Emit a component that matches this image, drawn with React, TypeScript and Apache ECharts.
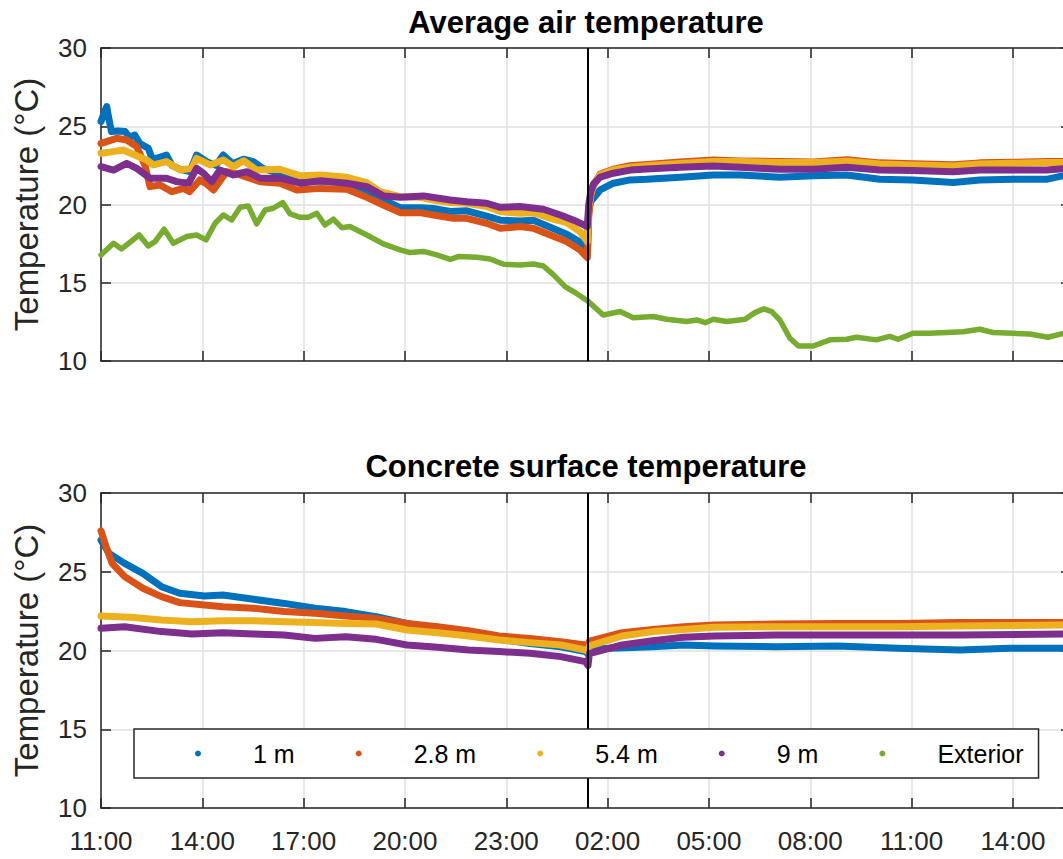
import React, { useEffect, useRef } from "react";
import * as echarts from "echarts";

// Hours elapsed since 11:00 on day 1; values in °C
const seriesNames = ["1 m", "2.8 m", "5.4 m", "9 m", "Exterior"];
const seriesColors = ["#0072BD", "#D95319", "#EDB120", "#7E2F8E", "#77AC30"];
const startHour = 11;
const eventHour = 14.42;
const xMax = 28.72;
const yTicks = [10, 15, 20, 25, 30];

const air1m = [[0,25.3],[0.1,25.9],[0.17,26.26],[0.22,25.62],[0.31,24.66],[0.5,24.7],[0.71,24.66],[0.85,24.3],[1.0,24.44],[1.15,23.9],[1.4,23.59],[1.5,23.0],[1.65,22.95],[1.94,23.16],[2.1,22.5],[2.34,22.25],[2.64,22.1],[2.83,23.16],[3.13,22.74],[3.4,22.5],[3.62,23.16],[3.9,22.6],[4.22,22.89],[4.51,22.74],[4.8,22.3],[5.1,22.1],[5.5,21.8],[5.9,21.45],[6.5,21.5],[7.28,21.4],[7.87,20.9],[8.36,20.3],[8.86,19.8],[9.45,19.8],[9.84,19.75],[10.34,19.55],[10.83,19.6],[11.42,19.25],[11.82,19.0],[12.41,18.95],[12.8,19.0],[13.3,18.55],[13.79,18.1],[14.18,17.6],[14.4,17.0],[14.44,19.6],[14.5,20.2],[14.58,20.4],[14.78,20.93],[15.17,21.36],[15.67,21.57],[16.16,21.61],[17.15,21.74],[18.13,21.89],[18.92,21.89],[20.1,21.74],[21.09,21.83],[22.08,21.89],[23.06,21.61],[24.04,21.57],[25.23,21.4],[26.02,21.57],[27.0,21.61],[27.99,21.61],[28.6,21.89]];
const air28m = [[0,23.91],[0.46,24.23],[0.76,24.12],[1.06,23.7],[1.3,22.5],[1.45,21.14],[1.75,21.25],[2.1,20.82],[2.44,21.03],[2.62,20.82],[2.93,21.57],[3.13,21.3],[3.33,20.93],[3.72,22.1],[4.12,21.89],[4.71,21.46],[5.3,21.36],[5.8,20.93],[6.5,21.03],[7.28,20.97],[7.87,20.46],[8.36,19.97],[8.86,19.48],[9.45,19.48],[9.84,19.33],[10.43,19.12],[10.83,19.12],[11.42,18.8],[11.82,18.48],[12.41,18.59],[12.8,18.48],[13.3,18.05],[13.79,17.63],[14.18,17.1],[14.4,16.6],[14.44,19.2],[14.5,20.5],[14.58,21.2],[14.78,21.95],[15.17,22.25],[15.67,22.48],[16.16,22.56],[17.15,22.72],[18.13,22.84],[18.92,22.78],[20.1,22.74],[21.09,22.72],[22.08,22.86],[23.06,22.66],[24.04,22.6],[25.23,22.54],[26.02,22.66],[27.0,22.7],[27.99,22.74],[28.6,22.74]];
const air54m = [[0,23.27],[0.37,23.38],[0.66,23.48],[1.0,23.16],[1.35,22.85],[1.55,22.53],[1.94,22.74],[2.34,22.2],[2.69,22.31],[2.83,22.95],[3.23,22.53],[3.62,22.85],[3.92,22.42],[4.22,22.8],[4.61,22.2],[5.3,22.25],[5.9,21.83],[6.5,21.89],[7.28,21.74],[7.87,21.4],[8.26,20.82],[8.86,20.5],[9.45,20.46],[9.84,20.29],[10.34,20.12],[10.83,20.08],[11.42,19.87],[11.82,19.55],[12.41,19.44],[12.8,19.48],[13.3,19.12],[13.79,18.84],[14.18,18.27],[14.4,17.63],[14.44,19.8],[14.5,20.6],[14.58,21.3],[14.78,21.9],[15.17,22.2],[15.67,22.38],[16.16,22.48],[17.15,22.62],[18.13,22.74],[18.92,22.74],[20.1,22.68],[21.09,22.68],[22.08,22.76],[23.06,22.59],[24.04,22.53],[25.23,22.46],[26.02,22.59],[27.0,22.63],[27.99,22.68],[28.6,22.68]];
const air9m = [[0,22.42],[0.37,22.2],[0.76,22.63],[1.06,22.31],[1.25,22.0],[1.45,21.68],[1.94,21.68],[2.24,21.46],[2.59,21.36],[2.83,22.31],[3.03,22.0],[3.28,21.46],[3.52,22.2],[3.92,21.89],[4.32,22.1],[4.71,21.68],[5.3,21.68],[5.9,21.36],[6.5,21.52],[7.28,21.36],[7.87,21.14],[8.36,20.55],[8.86,20.46],[9.55,20.55],[10.34,20.29],[10.83,20.18],[11.42,20.08],[11.82,19.82],[12.41,19.87],[13.1,19.7],[13.6,19.33],[14.09,18.91],[14.4,18.59],[14.44,20.0],[14.5,20.8],[14.58,21.3],[14.78,21.75],[15.17,22.0],[15.67,22.2],[16.16,22.27],[17.15,22.38],[18.13,22.46],[18.92,22.38],[20.1,22.25],[21.09,22.25],[22.08,22.38],[23.06,22.21],[24.04,22.17],[25.23,22.1],[26.02,22.21],[27.0,22.21],[27.99,22.21],[28.6,22.31]];
const airExterior = [[0,16.78],[0.37,17.52],[0.61,17.16],[1.13,18.05],[1.4,17.35],[1.6,17.63],[1.87,18.42],[2.14,17.52],[2.54,17.95],[2.83,18.05],[3.11,17.74],[3.38,18.8],[3.62,19.33],[3.87,19.01],[4.12,19.82],[4.36,19.91],[4.61,18.76],[4.86,19.65],[5.1,19.76],[5.38,20.12],[5.6,19.4],[5.9,19.18],[6.14,19.18],[6.39,19.44],[6.63,18.69],[6.88,19.06],[7.13,18.52],[7.37,18.59],[7.87,18.05],[8.36,17.48],[8.86,17.1],[9.15,16.93],[9.55,17.0],[9.94,16.78],[10.34,16.5],[10.58,16.67],[11.13,16.63],[11.52,16.52],[11.92,16.18],[12.41,16.14],[12.8,16.2],[13.1,16.07],[13.4,15.5],[13.74,14.75],[14.09,14.3],[14.4,13.86],[14.87,12.94],[15.37,13.16],[15.76,12.77],[16.35,12.84],[16.75,12.67],[17.34,12.52],[17.64,12.62],[17.89,12.45],[18.13,12.67],[18.53,12.52],[19.07,12.67],[19.36,13.09],[19.63,13.33],[19.86,13.16],[20.1,12.62],[20.4,11.45],[20.65,10.96],[21.09,10.96],[21.58,11.35],[22.08,11.39],[22.37,11.52],[22.96,11.35],[23.35,11.57],[23.6,11.39],[24.04,11.77],[24.54,11.77],[25.52,11.87],[26.02,12.03],[26.41,11.82],[27.0,11.77],[27.5,11.73],[28.04,11.52],[28.6,11.82]];

const surf1m = [[0,27.0],[0.24,26.17],[0.7,25.53],[1.24,24.9],[1.79,24.05],[2.33,23.63],[3.06,23.46],[3.61,23.52],[4.52,23.25],[5.43,22.99],[6.34,22.68],[7.25,22.47],[8.15,22.15],[9.06,21.72],[9.97,21.34],[10.88,21.05],[11.79,20.71],[12.7,20.45],[13.61,20.24],[14.34,19.93],[14.42,19.8],[14.46,20.1],[15.07,20.14],[16.34,20.24],[17.25,20.35],[18.16,20.29],[19.98,20.24],[21.8,20.29],[23.61,20.14],[25.43,20.03],[26.89,20.14],[28.6,20.14]];
const surf28m = [[0,27.6],[0.15,26.59],[0.33,25.53],[0.7,24.69],[1.24,23.95],[1.79,23.42],[2.33,23.04],[3.06,22.89],[3.61,22.78],[4.52,22.68],[5.43,22.47],[6.34,22.36],[7.25,22.19],[8.15,22.04],[9.06,21.72],[9.97,21.51],[10.88,21.26],[11.79,20.92],[12.7,20.77],[13.61,20.56],[14.34,20.35],[14.42,20.2],[14.46,20.6],[15.43,21.13],[16.34,21.34],[17.25,21.51],[18.16,21.62],[19.98,21.68],[21.8,21.72],[23.61,21.72],[25.43,21.77],[28.6,21.77]];
const surf54m = [[0,22.19],[0.88,22.11],[1.79,21.94],[2.7,21.83],[3.61,21.89],[4.52,21.89],[5.43,21.83],[6.34,21.77],[7.25,21.72],[8.15,21.68],[9.06,21.3],[9.97,21.13],[10.88,20.92],[11.79,20.67],[12.7,20.5],[13.61,20.35],[14.34,20.03],[14.42,19.9],[14.46,20.3],[15.43,20.92],[16.34,21.2],[17.25,21.34],[18.16,21.47],[19.98,21.51],[21.8,21.51],[23.61,21.51],[25.43,21.55],[28.6,21.62]];
const surf9m = [[0,21.41],[0.7,21.51],[1.79,21.2],[2.7,21.05],[3.61,21.13],[4.52,21.05],[5.43,20.98],[6.34,20.77],[7.25,20.88],[8.15,20.71],[9.06,20.35],[9.97,20.2],[10.88,20.03],[11.79,19.93],[12.7,19.82],[13.61,19.61],[14.34,19.29],[14.42,19.05],[14.46,19.8],[15.43,20.35],[16.34,20.62],[17.25,20.84],[18.16,20.92],[19.98,20.98],[21.8,20.98],[23.61,20.98],[25.43,20.98],[28.6,21.05]];

const airSeries = [air1m, air28m, air54m, air9m, airExterior];
const surfSeries = [surf1m, surf28m, surf54m, surf9m];

const FONT = '"Liberation Sans", Arial, Helvetica, sans-serif';
const AX = "#262626";

function fmtHour(v: number) {
  const h = (startHour + Math.round(v)) % 24;
  return (h < 10 ? "0" : "") + h + ":00";
}

export default function App() {
  const ref = useRef<HTMLDivElement>(null);
  useEffect(() => {
    if (!ref.current) return;
    const chart = echarts.init(ref.current, null, { renderer: "svg" });
    const grids = [
      { left: 101, top: 48, width: 970, height: 313 },
      { left: 101, top: 493, width: 970, height: 315 },
    ];
    const xAxes: any[] = [];
    const yAxes: any[] = [];
    [0, 1].forEach((g) => {
      xAxes.push({
        type: "value", gridIndex: g, position: "bottom", min: 0, max: xMax, interval: 3,
        axisLine: { onZero: false, lineStyle: { color: AX, width: 1.5 } },
        axisTick: { inside: true, length: 10, lineStyle: { color: AX, width: 1.5 } },
        axisLabel: {
          show: g === 1, formatter: fmtHour, showMaxLabel: false, margin: 20,
          fontSize: 26, color: AX, fontFamily: FONT,
        },
        splitLine: { show: true, lineStyle: { color: "#e0e0e0", width: 1.5 } },
      });
      xAxes.push({
        type: "value", gridIndex: g, position: "top", min: 0, max: xMax, interval: 3,
        axisLine: { onZero: false, lineStyle: { color: AX, width: 1.5 } },
        axisTick: { inside: true, length: 10, lineStyle: { color: AX, width: 1.5 } },
        axisLabel: { show: false },
        splitLine: { show: false },
      });
      yAxes.push({
        type: "value", gridIndex: g, position: "left", min: yTicks[0], max: yTicks[yTicks.length - 1], interval: 5,
        name: "Temperature (°C)", nameLocation: "middle", nameGap: 58,
        nameTextStyle: { fontSize: 33, color: AX, fontFamily: FONT },
        axisLine: { onZero: false, lineStyle: { color: AX, width: 1.5 } },
        axisTick: { inside: true, length: 10, lineStyle: { color: AX, width: 1.5 } },
        axisLabel: { fontSize: 26, color: AX, fontFamily: FONT, margin: 14 },
        splitLine: { show: true, lineStyle: { color: "#e0e0e0", width: 1.5 } },
      });
      yAxes.push({
        type: "value", gridIndex: g, position: "right", min: yTicks[0], max: yTicks[yTicks.length - 1], interval: 5,
        axisLine: { onZero: false, lineStyle: { color: AX, width: 1.5 } },
        axisTick: { inside: true, length: 10, lineStyle: { color: AX, width: 1.5 } },
        axisLabel: { show: false },
        splitLine: { show: false },
      });
    });

    const series: any[] = [];
    airSeries.forEach((d, i) => {
      series.push({
        name: seriesNames[i], type: "line", xAxisIndex: 0, yAxisIndex: 0, data: d,
        showSymbol: false, symbol: "circle", color: seriesColors[i],
        lineStyle: { width: i === 4 ? 5.5 : 7, color: seriesColors[i], cap: "round", join: "round" },
      });
    });
    surfSeries.forEach((d, i) => {
      series.push({
        name: seriesNames[i], type: "line", xAxisIndex: 2, yAxisIndex: 2, data: d,
        showSymbol: false, symbol: "circle", color: seriesColors[i],
        lineStyle: { width: 7, color: seriesColors[i], cap: "round", join: "round" },
      });
    });
    [[0, 0], [2, 2]].forEach(([xi, yi]) => {
      series.push({
        type: "line", xAxisIndex: xi, yAxisIndex: yi, data: [], showSymbol: false, z: 3,
        markLine: {
          silent: true, symbol: ["none", "none"], label: { show: false },
          lineStyle: { color: "#000", width: 2, type: "solid" },
          data: [{ xAxis: eventHour }],
        },
      });
    });

    chart.setOption({
      animation: false,
      backgroundColor: "#fff",
      textStyle: { fontFamily: FONT },
      title: [
        { text: "Average air temperature", left: 581, top: 2, textAlign: "center",
          textStyle: { fontSize: 31, fontWeight: "bold", color: "#000", fontFamily: FONT } },
        { text: "Concrete surface temperature", left: 581, top: 446, textAlign: "center",
          textStyle: { fontSize: 31, fontWeight: "bold", color: "#000", fontFamily: FONT } },
      ],
      legend: {
        data: seriesNames, left: 134, top: 729, orient: "horizontal", z: 50, zlevel: 0,
        icon: "circle", itemWidth: 6, itemHeight: 6, itemGap: 61,
        padding: [12, 15, 12, 61],
        borderColor: AX, borderWidth: 1.5, backgroundColor: "#fff", borderRadius: 0,
        itemStyle: { borderWidth: 0 },
        formatter: (name: string) => "{t|" + name + "}",
        textStyle: {
          fontSize: 25, color: "#000", fontFamily: FONT,
          rich: { t: { fontSize: 25, color: "#000", fontFamily: FONT, padding: [0, 0, 0, 47] } },
        },
        selectedMode: false,
      },
      grid: grids,
      xAxis: xAxes,
      yAxis: yAxes,
      series,
    });
    return () => chart.dispose();
  }, []);
  return (
    <div style={{ position: "absolute", left: 0, top: 0, width: 1063, height: 859, overflow: "hidden", background: "#fff" }}>
      <div ref={ref} style={{ width: 1100, height: 859 }} />
    </div>
  );
}
